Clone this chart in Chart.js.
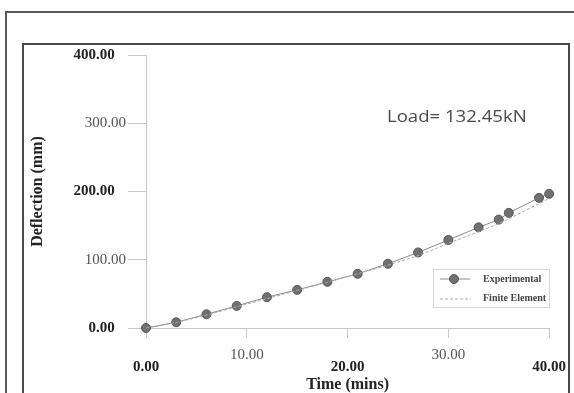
<!DOCTYPE html>
<html>
<head>
<meta charset="utf-8">
<script src="https://cdn.jsdelivr.net/npm/chart.js@4/dist/chart.umd.min.js"></script>
<style>
  html, body { margin:0; padding:0; background:#ffffff; }
  #wrap { position:relative; width:574px; height:393px; overflow:hidden; background:#fefefe; }
  #c { position:absolute; left:0; top:0; }
  .outer { position:absolute; left:5px; top:11px; width:600px; height:420px; border-top:2px solid #5a5a5a; border-left:2px solid #5a5a5a; box-sizing:border-box; }
  .inner { position:absolute; left:22px; top:43px; width:548px; height:420px; border-top:2px solid #4a4a4a; border-left:2px solid #4a4a4a; border-right:2px solid #4a4a4a; box-sizing:border-box; }
  .note { position:absolute; left:387px; top:105px; font-family:"Open Sans", sans-serif; font-size:16px; color:#4a4a4a; white-space:nowrap; transform:scaleX(1.16); transform-origin:left center; }
  .legend { position:absolute; left:433px; top:269px; width:117px; height:39px; border:1px solid #d6d6d6; box-sizing:border-box; }
  .legend .txt { position:absolute; left:49px; font-family:"Liberation Serif", serif; font-weight:bold; font-size:10px; color:#444; white-space:nowrap; }
  .legend svg { position:absolute; left:0; top:0; }
</style>
</head>
<body>
<div id="wrap">
  <canvas id="c" width="574" height="393"></canvas>
  <div class="outer"></div>
  <div class="inner"></div>
  <div class="note">Load= 132.45kN</div>
  <div class="legend">
    <svg width="117" height="39">
      <line x1="6" y1="9" x2="36" y2="9" stroke="#8a8a8a" stroke-width="1"/>
      <circle cx="20" cy="9" r="4.5" fill="#707070" stroke="#585858" stroke-width="1"/>
      <line x1="6" y1="29" x2="37" y2="29" stroke="#b0b0b0" stroke-width="1" stroke-dasharray="3,2"/>
    </svg>
    <div class="txt" style="top:3px;">Experimental</div>
    <div class="txt" style="top:22px;">Finite Element</div>
  </div>
</div>
<script>
// ---- data ----
const timeMins = [0, 3, 6, 9, 12, 15, 18, 21, 24, 27, 30, 33, 35, 36, 39, 40];
const experimental = [0, 8.4, 20.1, 32.4, 45.1, 55.9, 67.6, 79.4, 94.1, 110.7, 129.0, 147.5, 158.8, 168.7, 190.7, 196.6];
const finiteElement = [0, 8.0, 19.0, 31.0, 43.0, 55.0, 67.0, 79.5, 92.0, 106.0, 124.0, 141.0, 153.0, 160.0, 182.0, 190.0];
const xTicks = [0, 10, 20, 30, 40];
const yTicks = [0, 100, 200, 300, 400];

const toPts = (xs, ys) => xs.map((x, i) => ({x: x, y: ys[i]}));

new Chart(document.getElementById('c'), {
  type: 'scatter',
  data: {
    datasets: [
      {
        label: 'Finite Element',
        data: toPts(timeMins, finiteElement),
        showLine: true,
        borderColor: '#ababab',
        borderWidth: 1,
        borderDash: [3, 2],
        pointRadius: 0,
        fill: false,
        clip: false
      },
      {
        label: 'Experimental',
        data: toPts(timeMins, experimental),
        showLine: true,
        borderColor: '#8a8a8a',
        borderWidth: 1,
        pointRadius: 4.5,
        pointBackgroundColor: '#707070',
        pointBorderColor: '#585858',
        pointBorderWidth: 1,
        fill: false,
        clip: false
      }
    ]
  },
  options: {
    responsive: false,
    devicePixelRatio: 1,
    animation: false,
    layout: { padding: { top: 55, right: 23, left: 0, bottom: 0 } },
    plugins: { legend: { display: false }, tooltip: { enabled: false } },
    scales: {
      x: {
        type: 'linear',
        min: xTicks[0], max: xTicks[xTicks.length - 1],
        afterBuildTicks: s => { s.ticks = xTicks.map(v => ({value: v})); },
        afterFit: s => { s.height = 65; },
        grid: { drawOnChartArea: false, tickLength: 10, color: '#c8c8c8' },
        border: { display: true, color: '#c8c8c8', width: 1 },
        ticks: {
          padding: 8,
          maxRotation: 0,
          autoSkip: false,
          callback: (v, i) => (i % 2 === 0 ? ['', Number(v).toFixed(2)] : Number(v).toFixed(2)),
          color: c => (c.index % 2 === 0 ? '#222' : '#555'),
          font: c => ({ family: 'Liberation Serif', size: 15, weight: c.index % 2 === 0 ? 'bold' : 'normal', lineHeight: c.index % 2 === 0 ? '14px' : '18px' })
        },
        title: {
          display: true,
          text: 'Time (mins)',
          color: '#222',
          font: { family: 'Liberation Serif', size: 16, weight: 'bold', lineHeight: 1 },
          padding: { top: 0, bottom: 0 }
        }
      },
      y: {
        type: 'linear',
        min: yTicks[0], max: yTicks[yTicks.length - 1],
        afterBuildTicks: s => { s.ticks = yTicks.map(v => ({value: v})); },
        afterFit: s => { s.width = 146; },
        grid: { drawOnChartArea: false, tickLength: 18, color: '#c8c8c8' },
        border: { display: true, color: '#c8c8c8', width: 1 },
        ticks: {
          padding: 2,
          autoSkip: false,
          callback: (v, i) => Number(v).toFixed(2) + (i % 2 === 0 ? '\u00a0\u00a0\u00a0' : ''),
          color: c => (c.index % 2 === 0 ? '#222' : '#555'),
          font: c => ({ family: 'Liberation Serif', size: 15, weight: c.index % 2 === 0 ? 'bold' : 'normal' })
        },
        title: {
          display: true,
          text: 'Deflection (mm)',
          color: '#222',
          font: { family: 'Liberation Serif', size: 16, weight: 'bold', lineHeight: 1 },
          padding: { top: 30, bottom: 0 }
        }
      }
    }
  }
});
</script>
</body>
</html>
